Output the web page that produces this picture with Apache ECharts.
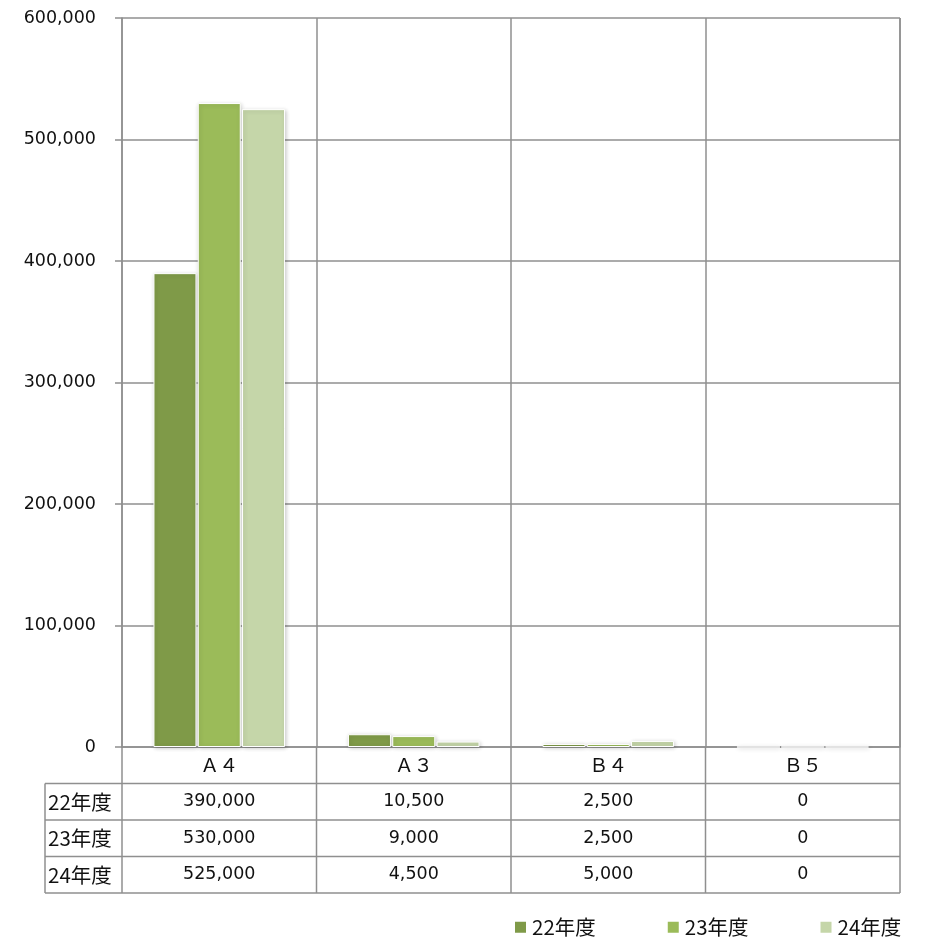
<!DOCTYPE html>
<html>
<head>
<meta charset="utf-8">
<script src="https://cdn.jsdelivr.net/npm/echarts@6/dist/echarts.min.js"></script>
<style>
html,body{margin:0;padding:0;background:#fff;}
#main{width:928px;height:938px;}
</style>
</head>
<body>
<div id="main"></div>
<script>
const categories = ['Ａ４', 'Ａ３', 'Ｂ４', 'Ｂ５'];
const seriesNames = ['22年度', '23年度', '24年度'];
const values22 = [390000, 10500, 2500, 0];
const values23 = [530000, 9000, 2500, 0];
const values24 = [525000, 4500, 5000, 0];
const colors = ['#7F9A48', '#9BBB59', '#C5D6A9'];
const yMin = 0, yMax = 600000, yInterval = 100000;

const allValues = [values22, values23, values24];
const FONT = 'DejaVu Sans, Noto Sans CJK JP, sans-serif';
const JFONT = 'Noto Sans CJK JP, sans-serif';
const LINE = '#8f8f8f';
const G = {left: 122, right: 28, top: 18, bottom: 191};
const rowH = 36.5;

const fmt = v => v.toLocaleString('en-US');

const chart = echarts.init(document.getElementById('main'));

const tableAxes = allValues.map((vals, k) => ({
  type: 'category',
  gridIndex: 0,
  position: 'bottom',
  offset: rowH * (k + 1),
  data: vals.map(fmt),
  axisLine: {show: false},
  axisTick: {show: false},
  splitLine: {show: false},
  axisLabel: {
    interval: 0, margin: rowH / 2, verticalAlign: 'middle',
    fontFamily: FONT, fontSize: 17.5, color: '#111'
  }
}));

const option = {
  animation: false,
  backgroundColor: '#fff',
  grid: {left: G.left, right: G.right, top: G.top, bottom: G.bottom, containLabel: false},
  legend: {
    data: seriesNames,
    left: 510, top: 912,
    icon: 'rect', itemWidth: 11, itemHeight: 11, itemGap: 72,
    itemStyle: {borderWidth: 0, shadowBlur: 0, shadowOffsetX: 0, shadowOffsetY: 0},
    textStyle: {fontFamily: JFONT, fontSize: 20.5, color: '#111', padding: [0, 0, 0, 1]}
  },
  xAxis: [{
    type: 'category',
    data: categories,
    axisLine: {show: true, lineStyle: {color: LINE, width: 1.5}},
    axisTick: {show: false},
    splitLine: {show: true, lineStyle: {color: LINE, width: 1.5}},
    axisLabel: {
      interval: 0, margin: rowH / 2, verticalAlign: 'middle',
      fontFamily: JFONT, fontSize: 19, color: '#111'
    }
  }].concat(tableAxes),
  yAxis: {
    type: 'value',
    min: yMin, max: yMax, interval: yInterval,
    axisLine: {show: true, lineStyle: {color: LINE, width: 1.5}},
    axisTick: {show: true, length: 7, lineStyle: {color: LINE, width: 1.5}},
    splitLine: {show: true, lineStyle: {color: LINE, width: 1.5}},
    axisLabel: {margin: 26, fontFamily: FONT, fontSize: 17.5, color: '#111', formatter: v => fmt(v)}
  },
  series: allValues.map((vals, i) => ({
    name: seriesNames[i],
    type: 'bar',
    xAxisIndex: 0,
    data: vals,
    barWidth: 43,
    barGap: '3%',
    itemStyle: {
      color: colors[i],
      borderColor: '#ffffff', borderWidth: 1,
      shadowBlur: 4, shadowColor: 'rgba(0,0,0,0.2)', shadowOffsetX: 1, shadowOffsetY: 1
    }
  }))
};

chart.setOption(option);

// data table lines and row labels, built from the grid geometry
const W = chart.getWidth() - G.left - G.right;
const x0 = G.left, x1 = G.left + W;
const yBase = chart.getHeight() - G.bottom;
const band = W / categories.length;
const tableLeft = 45;
const els = [];
const lineStyle = {stroke: LINE, lineWidth: 1.5};
for (let i = 0; i <= categories.length; i++) {
  const x = x0 + band * i;
  els.push({type: 'line', shape: {x1: x, y1: yBase, x2: x, y2: yBase + rowH * 4}, style: lineStyle, silent: true});
}
els.push({type: 'line', shape: {x1: x1, y1: G.top, x2: x1, y2: yBase}, style: lineStyle, silent: true});
els.push({type: 'line', shape: {x1: tableLeft, y1: yBase + rowH, x2: tableLeft, y2: yBase + rowH * 4}, style: lineStyle, silent: true});
for (let r = 1; r <= 4; r++) {
  const y = yBase + rowH * r;
  els.push({type: 'line', shape: {x1: tableLeft, y1: y, x2: x1, y2: y}, style: lineStyle, silent: true});
}
seriesNames.forEach((n, k) => {
  els.push({
    type: 'text', silent: true,
    x: tableLeft + 3, y: yBase + rowH * (k + 1) + rowH / 2,
    style: {text: n, font: '20.5px ' + JFONT, fill: '#111', textAlign: 'left', textVerticalAlign: 'middle'}
  });
});
chart.setOption({graphic: {elements: els}});
</script>
</body>
</html>
